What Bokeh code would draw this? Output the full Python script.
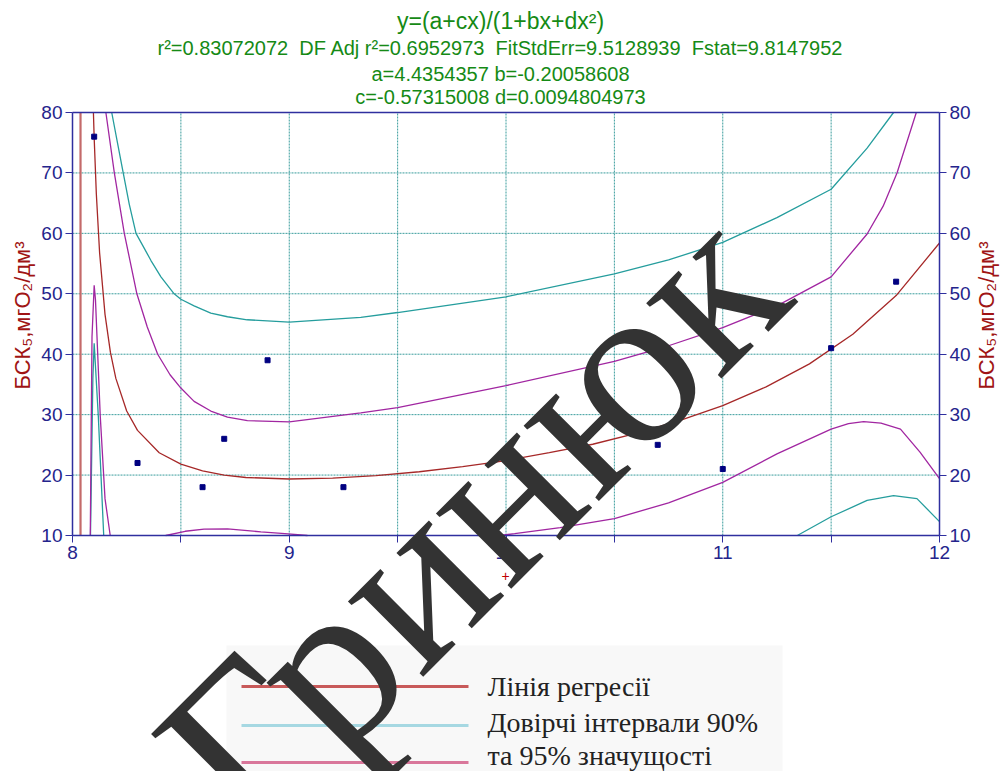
import math
from bokeh.plotting import figure
from bokeh.models import (FixedTicker, LinearAxis, Label, BoxAnnotation, Range1d)
from bokeh.embed import file_html
from bokeh.resources import INLINE

NAN = float("nan")

# ---------------- data ----------------
obs_x = [8.1, 8.3, 8.6, 8.7, 8.9, 9.25, 10.7, 11.0, 11.5, 11.8]
obs_y = [76, 22, 18, 26, 39, 18, 25, 21, 41, 52]

reg_x = [8.0965, 8.1, 8.11, 8.125, 8.15, 8.175, 8.2, 8.25, 8.3, 8.4, 8.5, 8.6, 8.7,
         8.8, 9.0, 9.2, 9.4, 9.6, 9.8, 10.0, 10.2, 10.4, 10.6, 10.8, 11.0, 11.2,
         11.4, 11.6, 11.8, 12.0]
reg_y = [80.0, 75.8, 66.5, 56.8, 46.6, 40.3, 36.0, 30.6, 27.4, 23.7, 21.8, 20.7, 20.0,
         19.6, 19.35, 19.5, 19.9, 20.55, 21.4, 22.4, 23.7, 25.1, 26.9, 29.0, 31.5, 34.6,
         38.4, 43.3, 49.7, 58.4]

pole_x = [8.037, 8.037]
pole_y = [10, 80]

up95_x = [8.181, 8.21, 8.234, 8.262, 8.293, 8.33, 8.362, 8.408, 8.469, 8.5, 8.561,
          8.638, 8.715, 8.806, 9.0, 9.33, 9.5, 10.0, 10.5, 10.75, 11.0, 11.25, 11.5,
          11.666, 11.788]
up95_y = [80, 74.5, 70, 64.8, 60, 57.6, 55.5, 52.8, 50, 49.1, 48.0,
          46.8, 46.2, 45.7, 45.3, 46.1, 46.9, 49.5, 53.3, 55.6, 58.5, 62.6, 67.3,
          74.1, 80]

lo95_x = [8.083, 8.094, 8.1, 8.119, 8.144, NAN, 11.344, 11.5, 11.666,
          11.788, 11.896, 12.0]
lo95_y = [10, 36, 41.8, 29.8, 10, NAN, 10, 13.1, 15.8,
          16.6, 16.1, 12.3]

up90_x = [8.154, 8.193, 8.239, 8.297, 8.345, 8.393, 8.45, 8.5, 8.561, 8.638, 8.715,
          8.807, 9.0, 9.33, 9.5, 10.0, 10.5, 10.75, 11.0, 11.25, 11.5, 11.666, 11.74,
          11.804, 11.893]
up90_y = [80, 70, 60, 50, 44.5, 40, 36.6, 34.4, 32.2, 30.6, 29.6,
          29.0, 28.8, 30.3, 31.15, 34.8, 38.8, 41.4, 44.4, 48.0, 52.8, 59.9, 64.5,
          70.0, 80]

lo90_x = [8.082, 8.09, 8.1, 8.106, 8.128, 8.15, 8.174, NAN, 8.43, 8.52, 8.607,
          8.715, 8.869, 8.98, 9.084, NAN, 9.97, 10.04, 10.25, 10.5, 10.75, 11.0, 11.25,
          11.5, 11.58, 11.65, 11.73, 11.82, 11.91, 12.0]
lo90_y = [10, 42.9, 51.4, 49.0, 29.8, 16.1, 10, NAN, 10, 10.7, 11.05,
          11.1, 10.6, 10.3, 10.0, NAN, 10.0, 10.3, 11.3, 12.8, 15.4, 18.8, 23.5,
          27.6, 28.5, 28.85, 28.6, 27.6, 23.8, 19.4]

x_ticks = [8, 9, 10, 11, 12]
x_minor = [8.5, 9.5, 10.5, 11.5]
x_grid = [8.5, 9, 9.5, 10, 10.5, 11, 11.5]
y_ticks = [10, 20, 30, 40, 50, 60, 70, 80]
y_grid = [20, 30, 40, 50, 60, 70]

SP2 = "\u00a0 "   # a double space that survives SVG whitespace collapsing
title_lines = ["y=(a+cx)/(1+bx+dx²)",
               "r²=0.83072072" + SP2 + "DF Adj r²=0.6952973" + SP2 +
               "FitStdErr=9.5128939" + SP2 + "Fstat=9.8147952",
               "a=4.4354357 b=-0.20058608",
               "c=-0.57315008 d=0.0094804973"]
y_label = "БСК₅,мгО₂/дм³"
legend_labels = ["Лінія регресії", "Довірчі інтервали 90%", "та 95% значущості"]
legend_colors = ["#c85a5a", "#a6d8e2", "#d9779b"]
watermark = "Гринюк"

# ---------------- layout (page px) ----------------
W, H = 1000, 771
FL, FR, FT, FB = 72, 939, 112, 535   # plot-area edges in page px
XMIN, XMAX, YMIN, YMAX = 8, 12, 10, 80


def dx(px):
    return XMIN + (px - FL) * (XMAX - XMIN) / (FR - FL)


def dy(py):
    return YMAX - (py - FT) * (YMAX - YMIN) / (FB - FT)


p = figure(width=W, height=H, x_range=Range1d(dx(0), dx(W)),
           y_range=Range1d(dy(H), dy(0)),
           x_axis_location=None, y_axis_location=None,
           output_backend="svg", toolbar_location=None,
           min_border=0)
p.background_fill_color = "white"
p.border_fill_color = "white"
p.outline_line_color = None
p.xgrid.visible = False
p.ygrid.visible = False

NAVY = "#24248c"
AXC = "#2f2f9f"
TICKFONT = "19px"

# grid (dotted teal), limited to the plot area
GRIDC = "#3a9c9c"
p.segment(x0=x_grid, y0=[YMIN] * len(x_grid), x1=x_grid, y1=[YMAX] * len(x_grid),
          line_color=GRIDC, line_dash="2 1", line_width=1)
p.segment(x0=[XMIN] * len(y_grid), y0=y_grid, x1=[XMAX] * len(y_grid), y1=y_grid,
          line_color=GRIDC, line_dash="2 1", line_width=1)

xaxis = LinearAxis(fixed_location=YMIN, bounds=(XMIN, XMAX),
                   ticker=FixedTicker(ticks=x_ticks, minor_ticks=x_minor))
laxis = LinearAxis(fixed_location=XMIN, bounds=(YMIN, YMAX),
                   ticker=FixedTicker(ticks=y_ticks, minor_ticks=[]))
raxis = LinearAxis(fixed_location=XMAX, bounds=(YMIN, YMAX),
                   ticker=FixedTicker(ticks=y_ticks, minor_ticks=[]))
taxis = LinearAxis(fixed_location=YMAX, bounds=(XMIN, XMAX),
                   ticker=FixedTicker(ticks=[], minor_ticks=[]))
p.add_layout(xaxis, "below")
p.add_layout(laxis, "left")
p.add_layout(raxis, "right")
p.add_layout(taxis, "above")

for ax in [xaxis, laxis, raxis, taxis]:
    ax.axis_line_color = AXC
    ax.axis_line_width = 1.5
    ax.major_tick_line_color = AXC
    ax.minor_tick_line_color = AXC
    ax.major_tick_out = 7
    ax.major_tick_in = 0
    ax.minor_tick_out = 7
    ax.minor_tick_in = 0
    ax.major_label_text_color = NAVY
    ax.major_label_text_font = "Liberation Sans"
    ax.major_label_text_font_size = TICKFONT
    ax.major_label_standoff = 3
taxis.major_label_text_font_size = "0px"

TEAL = "#259d9d"
PURPLE = "#a126a1"
RED = "#a62828"

p.line(pole_x, pole_y, line_color="#c46a6a", line_width=2.2)
p.line(up95_x, up95_y, line_color=TEAL, line_width=1.3)
p.line(lo95_x, lo95_y, line_color=TEAL, line_width=1.3)
p.line(up90_x, up90_y, line_color=PURPLE, line_width=1.3)
p.line(lo90_x, lo90_y, line_color=PURPLE, line_width=1.3)
p.line(reg_x, reg_y, line_color=RED, line_width=1.3)
p.scatter(obs_x, obs_y, marker="square", size=5, fill_color="#000080",
          line_color="#000080")

# ---------------- texts ----------------
GREEN = "#158a15"
title_y = [20, 47, 73, 96]
title_sz = ["23px", "20px", "20px", "20px"]
for t, yy, sz in zip(title_lines, title_y, title_sz):
    p.add_layout(Label(x=dx(500), y=dy(yy), text=t, text_align="center",
                       text_baseline="middle", text_font="Liberation Sans",
                       text_font_size=sz, text_color=GREEN))

for xx in [22, 986]:
    p.add_layout(Label(x=dx(xx), y=dy(315), text=y_label, angle=math.pi / 2,
                       text_align="center", text_baseline="middle",
                       text_font="Liberation Sans", text_font_size="22px",
                       text_color="#a01414"))

p.add_layout(Label(x=dx(505), y=dy(575), text="+", text_align="center",
                   text_baseline="middle", text_font="Liberation Sans",
                   text_font_size="14px", text_color="#c00000"))

# ---------------- legend (pasted key panel below the chart) ----------------
p.add_layout(BoxAnnotation(left=dx(226), right=dx(782), top=dy(645), bottom=dy(800),
                           fill_color="#f8f8f8", fill_alpha=1.0, line_color=None,
                           level="underlay"))
key_line_y = [686, 725, 762]
key_text_y = [686, 722, 755]
p.segment(x0=[dx(241)] * 3, x1=[dx(468)] * 3,
          y0=[dy(v) for v in key_line_y], y1=[dy(v) for v in key_line_y],
          line_color=legend_colors, line_width=3)
for lab, ty in zip(legend_labels, key_text_y):
    p.add_layout(Label(x=dx(487), y=dy(ty), text=lab, text_align="left",
                       text_baseline="middle", text_font="Liberation Serif",
                       text_font_size="28px", text_color="#222222"))

# ---------------- watermark (drawn on top of everything) ----------------
p.add_layout(Label(x=dx(470), y=dy(518), text=watermark, angle=math.pi / 4,
                   text_align="center", text_baseline="middle",
                   text_font="Liberation Serif", text_font_size="232px",
                   text_color="#333333"))

open("out.html", "w").write(file_html(p, INLINE))
